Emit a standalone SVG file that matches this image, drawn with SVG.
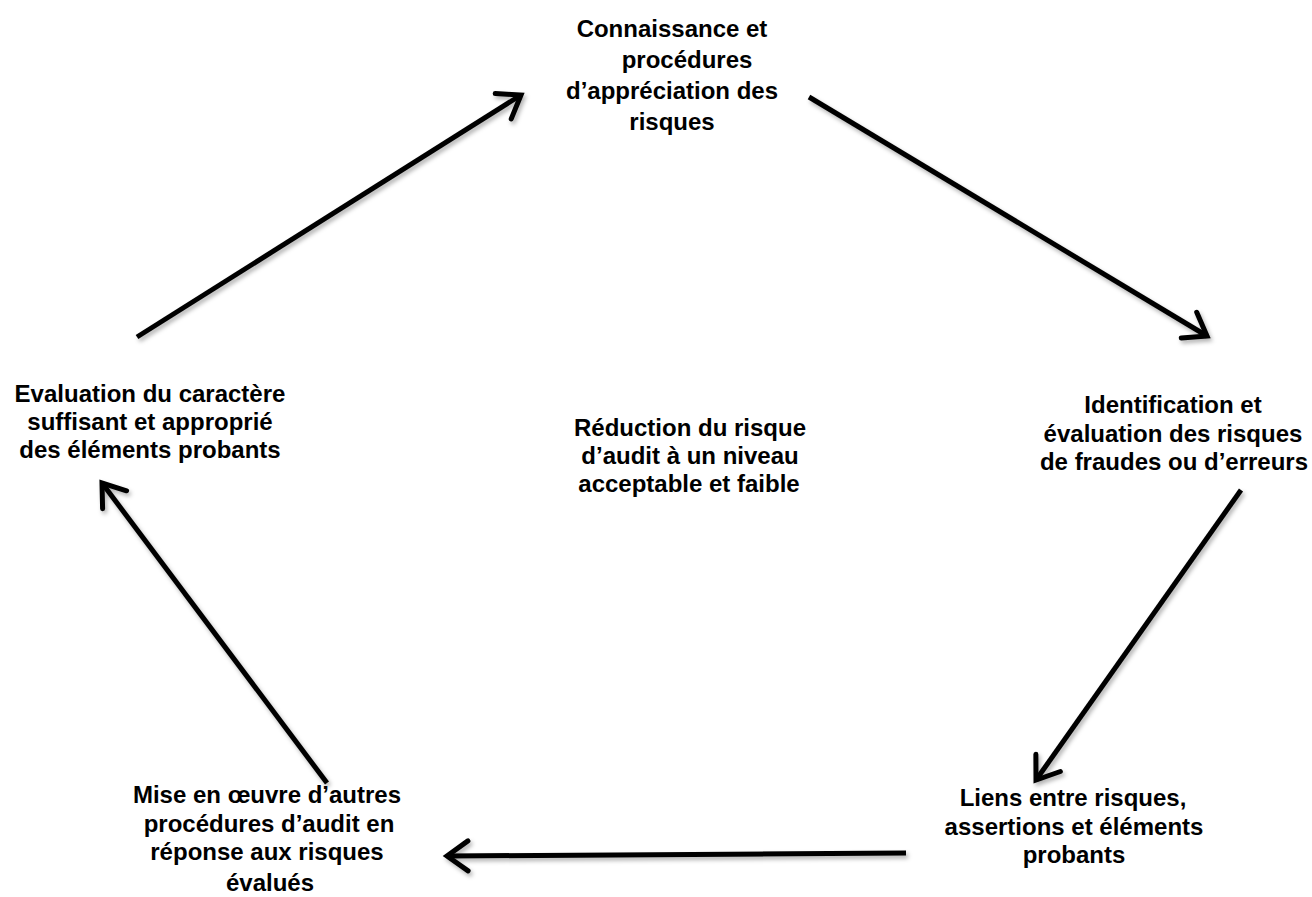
<svg xmlns="http://www.w3.org/2000/svg" width="1312" height="897" viewBox="0 0 1312 897">
<style>
  text { font-family: "Liberation Sans", Arial, sans-serif; font-weight: bold; font-size: 24px; fill: #000; text-anchor: middle; }
  .arrow { stroke: #000; stroke-width: 5; fill: none; marker-end: url(#head); filter: url(#shadow); }
</style>
<defs>
  <filter id="shadow" filterUnits="userSpaceOnUse" x="0" y="0" width="1312" height="897">
    <feDropShadow dx="2" dy="3" stdDeviation="2" flood-color="#000" flood-opacity="0.3"/>
  </filter>
  <marker id="head" markerUnits="userSpaceOnUse" markerWidth="40" markerHeight="40" refX="0" refY="0" orient="auto" overflow="visible">
    <path d="M -21 -15 L 0 0 L -21 15" fill="none" stroke="#000" stroke-width="5" stroke-linecap="round" stroke-linejoin="miter"/>
  </marker>
</defs>
<rect width="1312" height="897" fill="#fff"/>
<g id="connectors">
  <line class="arrow" x1="137" y1="337" x2="521" y2="95"/>
  <line class="arrow" x1="809" y1="97" x2="1207" y2="336"/>
  <line class="arrow" x1="1241" y1="490" x2="1036" y2="780"/>
  <line class="arrow" x1="906" y1="853" x2="447" y2="856"/>
  <line class="arrow" x1="327" y1="783" x2="102" y2="483"/>
</g>
<g id="node-top">
  <text x="672" y="37">Connaissance et</text>
  <text x="687" y="68">procédures</text>
  <text x="672" y="99">d’appréciation des</text>
  <text x="672" y="130">risques</text>
</g>
<g id="node-right">
  <text x="1173" y="413">Identification et</text>
  <text x="1173" y="442">évaluation des risques</text>
  <text x="1174" y="470">de fraudes ou d’erreurs</text>
</g>
<g id="node-bottom-right">
  <text x="1073" y="806">Liens entre risques,</text>
  <text x="1074" y="835">assertions et éléments</text>
  <text x="1074" y="863">probants</text>
</g>
<g id="node-bottom-left">
  <text x="267" y="803">Mise en œuvre d’autres</text>
  <text x="269" y="832">procédures d’audit en</text>
  <text x="267" y="860">réponse aux risques</text>
  <text x="270" y="891">évalués</text>
</g>
<g id="node-left">
  <text x="150" y="402">Evaluation du caractère</text>
  <text x="150" y="430">suffisant et approprié</text>
  <text x="150" y="458">des éléments probants</text>
</g>
<g id="node-center">
  <text x="690" y="436">Réduction du risque</text>
  <text x="690" y="464">d’audit à un niveau</text>
  <text x="689" y="492">acceptable et faible</text>
</g>
</svg>
